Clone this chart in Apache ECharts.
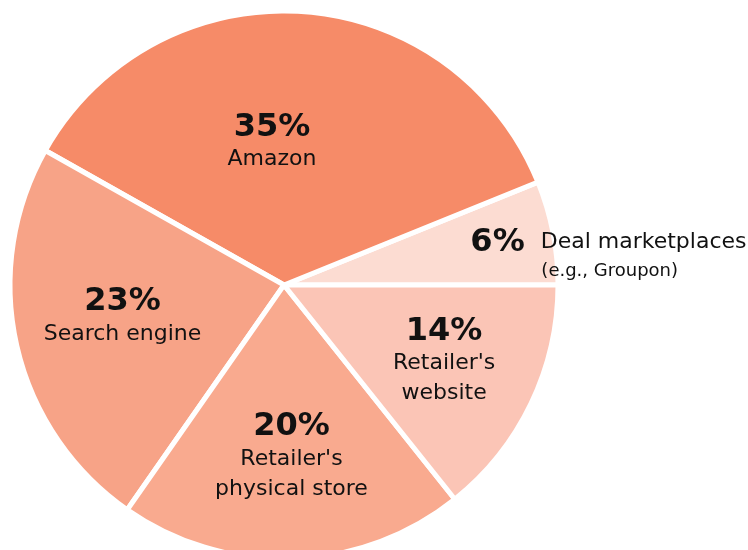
<!DOCTYPE html>
<html>
<head>
<meta charset="utf-8">
<script src="https://cdn.jsdelivr.net/npm/echarts@6/dist/echarts.min.js"></script>
<style>html,body{margin:0;padding:0;background:#fff;}#c{width:748px;height:550px;}</style>
</head>
<body>
<div id="c"></div>
<script>
// Data (counter-clockwise from 3 o'clock)
const categories = ["Deal marketplaces", "Amazon", "Search engine", "Retailer's physical store", "Retailer's website"];
const values = [6, 35, 23, 20, 14];
const percentLabels = ["6%", "35%", "23%", "20%", "14%"];
const nameLines = [["Deal marketplaces", "(e.g., Groupon)"], ["Amazon"], ["Search engine"], ["Retailer's", "physical store"], ["Retailer's", "website"]];
const colors = ["#FCDCD2", "#F68B68", "#F7A387", "#F9AA8F", "#FBC5B6"];
const labelShift = [[187, -4], [-21, -3], [-25, 1], [3, 32], [34, 16]];

const chart = echarts.init(document.getElementById('c'), null, {renderer: 'canvas'});

const data = categories.map((c, i) => {
  let fmt;
  if (i === 0) {
    fmt = '{p0|' + percentLabels[i] + '}{gap|}{t0|' + nameLines[i][0] + '}\n{sp|}{s|' + nameLines[i][1] + '}';
  } else {
    fmt = '{p|' + percentLabels[i] + '}\n' + nameLines[i].map(l => '{t|' + l + '}').join('\n');
  }
  return {
    name: c,
    value: values[i],
    itemStyle: {color: colors[i]},
    label: {formatter: fmt}
  };
});

const pFont = {fontFamily: 'DejaVu Sans', fontWeight: 'bold', fontSize: 32, color: '#111', lineHeight: 34};
const tFont = {fontFamily: 'DejaVu Sans', fontSize: 22, color: '#111', lineHeight: 30};

chart.setOption({
  animation: false,
  series: [{
    type: 'pie',
    center: [284, 285],
    radius: [0, 274],
    startAngle: 0,
    clockwise: false,
    data: data,
    itemStyle: {borderColor: '#ffffff', borderWidth: 5},
    emphasis: {disabled: true},
    label: {
      show: true,
      position: 'inside',
      color: '#111',
      rich: {
        p: pFont,
        t: tFont,
        p0: Object.assign({}, pFont, {align: 'left'}),
        t0: Object.assign({}, tFont, {align: 'left', lineHeight: 34}),
        s: {fontFamily: 'DejaVu Sans', fontSize: 18, color: '#111', lineHeight: 24, align: 'left'},
        gap: {width: 16, align: 'left'},
        sp: {width: 71, align: 'left'}
      }
    },
    labelLine: {show: false},
    labelLayout: function (p) {
      return {dx: labelShift[p.dataIndex][0], dy: labelShift[p.dataIndex][1]};
    }
  }]
});
</script>
</body>
</html>
